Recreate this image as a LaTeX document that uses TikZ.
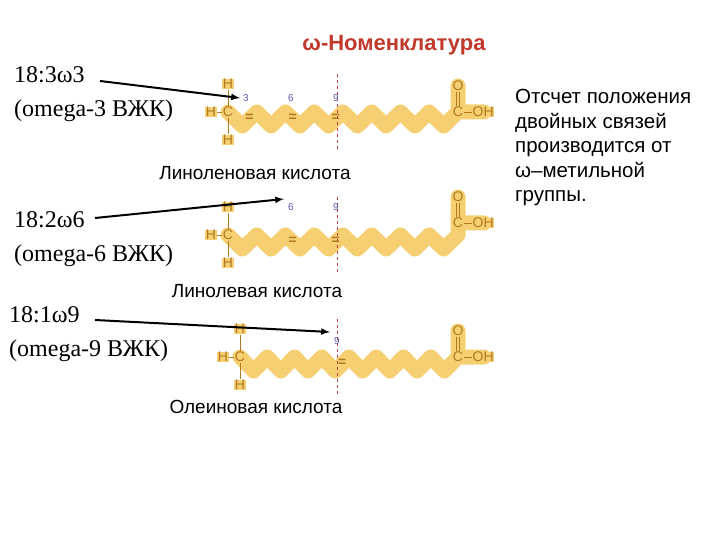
\documentclass[tikz,border=0pt]{standalone}
\usepackage{fontspec}
\setmainfont{Liberation Sans}
\newfontfamily\serf{Liberation Serif}
\definecolor{band}{HTML}{F6CF72}
\definecolor{atom}{HTML}{B07A1E}
\definecolor{ttl}{HTML}{C0392B}
\begin{document}
\begin{tikzpicture}[x=1pt,y=-1pt,
  bandline/.style={band,line width=15pt,line cap=round,line join=round},
  bondline/.style={atom,line width=0.9pt},
  atomlbl/.style={atom,font=\fontsize{14}{14}\selectfont,inner sep=0.5pt,fill=band},
  numlbl/.style={gray!70!blue,font=\fontsize{10}{10}\selectfont},
  dbl/.style={atom,font=\fontsize{14}{14}\selectfont\bfseries},
  lbl/.style={font=\serf\fontsize{24}{34}\selectfont,align=left,anchor=north west,inner sep=0},
  captxt/.style={font=\fontsize{19}{20}\selectfont},
  arr/.style={-latex,line width=2pt}]
\useasboundingbox (0,0) rectangle (720,540);
\newcommand\molecule[5]{% #1 x0, #2 y, #3 acid dy, #4 doubles list, #5 numbers
  \begin{scope}[shift={(#1,#2)}]
  \path[bandline,line width=13pt] (0,-28) -- (0,28) (-16,0) -- (0,0);
  \draw[bandline] (0,0) \foreach \k in {1,...,16}{ -- ({\k*(458-#1)/16},{mod(\k,2)*14})} -- ({458-#1},#3) -- ({484-#1},#3) ({458-#1},#3) -- ({458-#1},{#3-26});
  \draw[red!50!gray,dashed,line width=0.9pt] ({337-#1},-38) -- ({337-#1},38);
  \foreach \k in {#4}{\node[dbl] at ({(\k-0.5)*(458-#1)/16},6) {=};}
  \node[atomlbl] (c) at (0,0) {C};
  \node[atomlbl] (h1) at (0,-28) {H};
  \node[atomlbl] (h2) at (0,28) {H};
  \node[atomlbl] (h3) at (-17,0) {H};
  \draw[bondline] (c)--(h1) (c)--(h2) (c)--(h3);
  \node[atomlbl] (ca) at ({458-#1},#3) {C};
  \node[atomlbl] (oa) at ({458-#1},{#3-26}) {O};
  \node[atomlbl,anchor=west] (oh) at ({472-#1},#3) {OH};
  \draw[bondline] ([xshift=-1.2pt]ca.north)--([xshift=-1.2pt]oa.south) ([xshift=1.2pt]ca.north)--([xshift=1.2pt]oa.south) (ca)--(oh);
  #5
  \end{scope}}
\molecule{228}{112}{0}{2,5,8}{\node[numlbl] at (18,-14) {3}; \node[numlbl] at (63,-14) {6}; \node[numlbl] at (108,-14) {9};}
\molecule{228}{235}{-12}{5,8}{\node[numlbl] at (63,-28) {6}; \node[numlbl] at (108,-28) {9};}
\molecule{240}{357}{0}{8}{\node[numlbl] at (97,-16) {9};}
\node[font=\bfseries\fontsize{22}{22}\selectfont,ttl] (t) at (394,45) {ω-Номенклатура};
\node[lbl] (l1) at (14,66) {18:3ω3\\(omega-3 ВЖК)};
\node[lbl] (l2) at (14,211) {18:2ω6\\(omega-6 ВЖК)};
\node[lbl] (l3) at (9,306) {18:1ω9\\(omega-9 ВЖК)};
\coordinate (e1) at (240,98); \coordinate (e2) at (284,199); \coordinate (e3) at (330,332);
\coordinate (s1) at (100,81); \coordinate (s2) at (95,218); \coordinate (s3) at (95,320);
\draw[arr] (s1)--(e1); \draw[arr] (s2)--(e2); \draw[arr] (s3)--(e3);
\node[captxt] (n1) at (255,173) {Линоленовая кислота};
\node[captxt] (n2) at (257,291) {Линолевая кислота};
\node[captxt] (n3) at (256,407) {Олеиновая кислота};
\node[font=\fontsize{20.5}{24.5}\selectfont,align=left,anchor=north west,inner sep=0] (r) at (515,89) {Отсчет положения\\двойных связей\\производится от\\ω–метильной\\группы.};
\end{tikzpicture}
\end{document}
